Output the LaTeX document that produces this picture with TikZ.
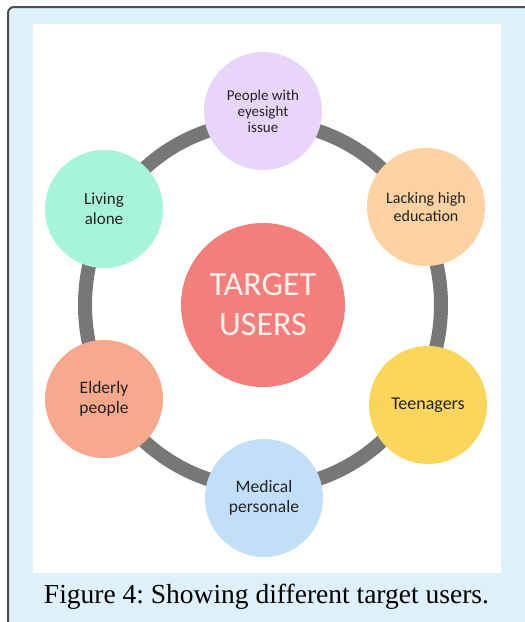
\documentclass[tikz,border=0pt]{standalone}
\usepackage{fontspec}
\setmainfont{Liberation Serif}
\newfontfamily\calfont{Carlito}

\definecolor{panelbg}{HTML}{DEF1FB}
\definecolor{framegray}{HTML}{4D4D4D}
\definecolor{ringgray}{HTML}{777777}
\definecolor{hubfill}{HTML}{F47E7B}
\definecolor{hubtext}{HTML}{FFF2EC}
\definecolor{usertext}{HTML}{222222}
\definecolor{eyefill}{HTML}{EAD5FA}
\definecolor{livefill}{HTML}{A7F4DC}
\definecolor{lackfill}{HTML}{FDD2A3}
\definecolor{teenfill}{HTML}{FBD65A}
\definecolor{medfill}{HTML}{C2DFFA}
\definecolor{oldfill}{HTML}{F8A88C}

\begin{document}
\begin{tikzpicture}[x=1pt,y=-1pt]
	\tikzset{user/.style 2 args={circle, minimum size=118pt, inner sep=0pt, align=center, text=usertext, font=\calfont\fontsize{#1}{#2}\selectfont},
		hub/.style={circle, fill=hubfill, minimum size=164pt, inner sep=0pt, align=center, text=hubtext, font=\calfont\fontsize{34}{40}\selectfont},
		ring/.style={draw=ringgray, line width=14pt}};
	\useasboundingbox (0,0) rectangle (525,622);
	% page, caption box and white panel
	\fill[white] (0,0) rectangle (525,622);
	\draw[framegray, line width=2pt, fill=panelbg, rounded corners=6pt] (8,7) rectangle (560,660);
	\fill[white] (33,24) rectangle (501,573);
	% hub and the ring behind the users
	\node[hub] (Target) at (263,305) {TARGET\\USERS};
	\draw[ring] (Target.center) ellipse [x radius=178pt, y radius=183pt];
	\node[user={15}{16}, fill=eyefill ] (Eyesight) at (263,111) {People with\\eyesight\\issue};
	\node[user={16}{18}, fill=lackfill] (Lacking)  at (426,207) {Lacking high\\education};
	\node[user={18}{20}, fill=teenfill] (Teens)    at (428,405) {Teenagers};
	\node[user={17.5}{20}, fill=medfill ] (Medical)  at (264,498) {Medical\\personale};
	\node[user={17.5}{20}, fill=oldfill ] (Elderly)  at (104,399) {Elderly\\people};
	\node[user={17}{20}, fill=livefill] (Living)   at (104,209) {Living\\alone};
	% caption
	\node[anchor=base, font=\fontsize{27.5}{30}\selectfont\frenchspacing] (Caption) at (266.5,603) {Figure 4: Showing different target users.};
\end{tikzpicture}
\end{document}
